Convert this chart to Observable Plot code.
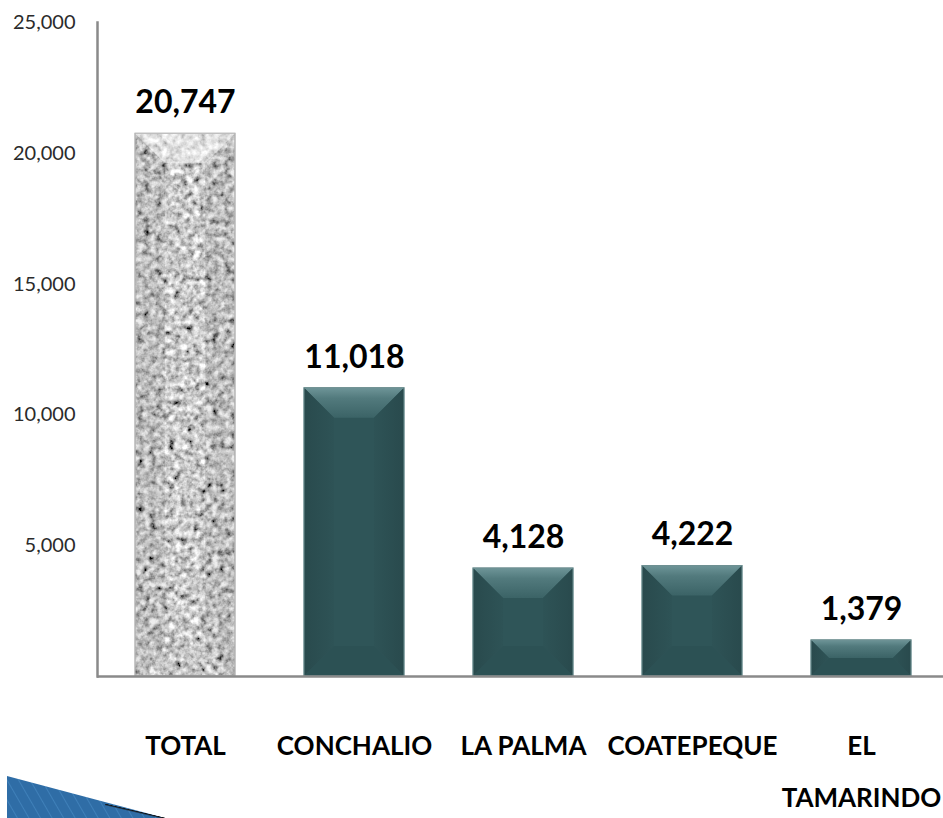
<!DOCTYPE html>
<html>
<head>
<meta charset="utf-8">
<script src="https://cdn.jsdelivr.net/npm/d3@7"></script>
<script src="https://cdn.jsdelivr.net/npm/@observablehq/plot@0.6"></script>
<style>
  html, body { margin: 0; padding: 0; background: #fff; overflow: hidden; }
  #wrap { position: relative; width: 943px; height: 818px; }
  #deco {
    position: absolute; left: 7px; top: 776px; width: 158px; height: 42px;
    background: repeating-linear-gradient(60deg, #2f6da6 0px, #2f6da6 8px, #3f80b9 9px, #2f6da6 10px);
    clip-path: polygon(0 0, 100% 100%, 0 100%);
  }
  #deco-shadow {
    position: absolute; left: 105px; top: 804px; width: 60px; height: 14px;
    background: linear-gradient(to bottom left, transparent 48%, #111 50%, transparent 56%);
  }
</style>
</head>
<body>
<div id="wrap">
  <div id="chart"></div>
  <div id="deco"></div>
  <div id="deco-shadow"></div>
</div>
<script>
const categories = ["TOTAL", "CONCHALIO", "LA PALMA", "COATEPEQUE", "EL TAMARINDO"];
const values = [20747, 11018, 4128, 4222, 1379];
const axisLabels = ["TOTAL", "CONCHALIO", "LA PALMA", "COATEPEQUE", "EL\nTAMARINDO"];
const yTicks = [5000, 10000, 15000, 20000, 25000];

const rows = categories.map((name, i) => ({name, value: values[i], label: axisLabels[i]}));
const fmt = d3.format(",");
const font = "Lato, Carlito, 'Open Sans', sans-serif";

const chart = Plot.plot({
  width: 943,
  height: 818,
  marginLeft: 97,
  marginRight: 0,
  marginTop: 22,
  marginBottom: 142,
  style: {fontFamily: font, background: "white", overflow: "visible"},
  x: {domain: categories, range: [99, 947], paddingInner: 0.41, paddingOuter: 0.2, axis: null},
  y: {domain: [0, 25000], axis: null},
  marks: [
    Plot.axisY({ticks: yTicks, tickSize: 0, tickPadding: 22, tickFormat: fmt, fontSize: 20, fill: "#2b2b2b", label: null}),
    Plot.barY(rows, {x: "name", y: "value", fill: "url(#granite)", stroke: "#b8b8b8", strokeWidth: 1, filter: d => d.name === "TOTAL"}),
    Plot.barY(rows, {x: "name", y: "value", fill: "#2f5558", stroke: "#6f9092", strokeWidth: 1, filter: d => d.name !== "TOTAL"}),
    Plot.frame({anchor: "left", stroke: "#8a8a8a", strokeWidth: 2.5}),
    Plot.ruleY([0], {stroke: "#8a8a8a", strokeWidth: 2.5}),
    Plot.text(rows, {x: "name", y: "value", text: d => fmt(d.value), dy: -31, fontSize: 32, fontWeight: "bold", fill: "#000"}),
    Plot.text(rows, {x: "name", frameAnchor: "bottom", text: "label", dy: 42, lineAnchor: "top", lineHeight: 2.0, fontSize: 26, fontWeight: "bold", fill: "#000"})
  ]
});

const svg = d3.select(chart);
svg.insert("defs", ":first-child").html(`
  <filter id="noiseF" x="0" y="0" width="943" height="818" filterUnits="userSpaceOnUse">
    <feTurbulence type="fractalNoise" baseFrequency="0.16" numOctaves="3" seed="7" result="noise"/>
    <feColorMatrix in="noise" type="matrix" values="0.33 0.33 0.33 0 0  0.33 0.33 0.33 0 0  0.33 0.33 0.33 0 0  0 0 0 0 1" result="gray"/>
    <feComponentTransfer in="gray">
      <feFuncR type="linear" slope="2.7" intercept="-0.75"/>
      <feFuncG type="linear" slope="2.7" intercept="-0.75"/>
      <feFuncB type="linear" slope="2.7" intercept="-0.75"/>
    </feComponentTransfer>
  </filter>
  <pattern id="granite" patternUnits="userSpaceOnUse" x="0" y="0" width="943" height="818">
    <rect width="943" height="818" fill="#999"/>
    <rect width="943" height="818" filter="url(#noiseF)"/>
  </pattern>
  <linearGradient id="tealTop" x1="0" y1="0" x2="0" y2="1">
    <stop offset="0" stop-color="#6e9598"/>
    <stop offset="0.35" stop-color="#527a7d"/>
    <stop offset="1" stop-color="#3b6366"/>
  </linearGradient>
  <linearGradient id="tealLeft" x1="0" y1="0" x2="1" y2="0">
    <stop offset="0" stop-color="#294a4d"/>
    <stop offset="1" stop-color="#2e5356"/>
  </linearGradient>
  <linearGradient id="tealRight" x1="0" y1="0" x2="1" y2="0">
    <stop offset="0" stop-color="#2e5356"/>
    <stop offset="1" stop-color="#294a4d"/>
  </linearGradient>
`);

// bevel faces derived from the rendered bar geometry
function bevel(rects, faces) {
  rects.each(function () {
    const r = d3.select(this);
    const x = +r.attr("x"), y = +r.attr("y"), w = +r.attr("width"), h = +r.attr("height");
    const b = Math.min(30, h / 2, w / 2);
    const g = d3.select(this.parentNode);
    const poly = (pts, fill) => g.append("polygon").attr("points", pts.map(p => p.join(",")).join(" ")).attr("fill", fill).attr("stroke", "none");
    poly([[x, y], [x + w, y], [x + w - b, y + b], [x + b, y + b]], faces.top);
    poly([[x, y], [x + b, y + b], [x + b, y + h - b], [x, y + h]], faces.left);
    poly([[x + w, y], [x + w - b, y + b], [x + w - b, y + h - b], [x + w, y + h]], faces.right);
    poly([[x, y + h], [x + b, y + h - b], [x + w - b, y + h - b], [x + w, y + h]], faces.bottom);
    g.append("rect").attr("x", x).attr("y", y).attr("width", w).attr("height", h)
      .attr("fill", "none").attr("stroke", faces.stroke).attr("stroke-width", 1);
  });
}
const fillOf = el => el.getAttribute("fill") || (el.parentNode.getAttribute && el.parentNode.getAttribute("fill"));
const tealList = svg.selectAll("rect").filter(function () { return fillOf(this) === "#2f5558"; }).nodes();
const graniteList = svg.selectAll("rect").filter(function () { return fillOf(this) === "url(#granite)" && !this.closest("pattern"); }).nodes();
bevel(d3.selectAll(tealList), {top: "url(#tealTop)", left: "url(#tealLeft)", right: "url(#tealRight)", bottom: "#2c5154", stroke: "#6f9092"});
bevel(d3.selectAll(graniteList), {top: "rgba(255,255,255,0.45)", left: "rgba(0,0,0,0.07)", right: "rgba(0,0,0,0.07)", bottom: "rgba(0,0,0,0.03)", stroke: "#b8b8b8"});

document.getElementById("chart").appendChild(chart);
</script>
</body>
</html>
